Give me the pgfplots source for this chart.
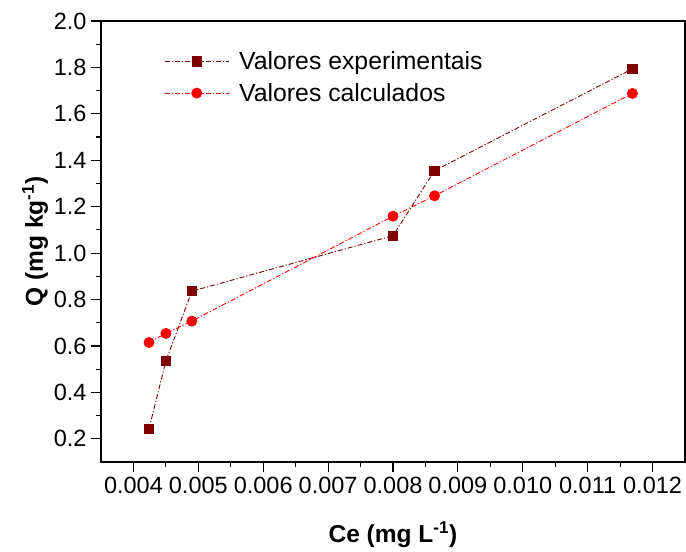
\documentclass[border=0pt]{standalone}
\usepackage{fontspec}
\setmainfont{Liberation Sans}
\usepackage{pgfplots}
\pgfplotsset{compat=1.18}

\definecolor{expcol}{RGB}{128,0,0}
\definecolor{calccol}{RGB}{255,0,0}

\begin{document}
\begin{tikzpicture}
\begin{axis}[
  name=ax,
  scale only axis,
  width=584pt, height=441pt,
  xmin=0.0035, xmax=0.0125,
  ymin=0.1, ymax=2.0,
  axis line style={line width=1.4pt},
  xtick={0.004,0.005,0.006,0.007,0.008,0.009,0.010,0.011,0.012},
  xticklabels={0.004,0.005,0.006,0.007,0.008,0.009,0.010,0.011,0.012},
  ytick={0.2,0.4,0.6,0.8,1.0,1.2,1.4,1.6,1.8,2.0},
  yticklabels={0.2,0.4,0.6,0.8,1.0,1.2,1.4,1.6,1.8,2.0},
  scaled x ticks=false,
  minor x tick num=1,
  minor y tick num=1,
  tick align=outside,
  xtick pos=bottom, ytick pos=left,
  major tick length=10pt, minor tick length=5pt,
  every tick/.style={black, line width=1.2pt},
  /pgf/number format/assume math mode=true,
  tick label style={font=\fontsize{23.5}{27}\selectfont},
  xticklabel style={yshift=-2pt},
  yticklabel style={xshift=-1pt},
  xlabel={Ce (mg L\textsuperscript{-1})},
  ylabel={Q (mg kg\textsuperscript{-1})},
  every axis x label/.style={at={(axis description cs:0.5,-0.1655)}, anchor=center,
    font=\fontsize{24.5}{28}\selectfont\bfseries},
  every axis y label/.style={at={(axis description cs:-0.113,0.5)}, anchor=center, rotate=90,
    font=\fontsize{24.5}{28}\selectfont\bfseries},
  legend style={at={(axis description cs:0.108,0.935)}, anchor=north west,
    draw=none, fill=none, font=\fontsize{24.8}{30}\selectfont,
    row sep=8pt, inner sep=0pt},
  legend cell align=left,
  legend image code/.code={%
    \draw[mark repeat=2,mark phase=2,#1]
      plot coordinates {(0pt,0pt) (32pt,0pt) (64pt,0pt)};
    \path (72pt,0pt);},
]
\addplot[color=expcol, line width=0.9pt,
  dash pattern=on 5pt off 2pt on 1.2pt off 2pt,
  mark=square*, mark size=4.7pt,
  mark options={solid, fill=expcol, draw=expcol}]
  coordinates {
    (0.00424,0.243)
    (0.00450,0.535)
    (0.00490,0.836)
    (0.00800,1.075)
    (0.00864,1.355)
    (0.01169,1.794)
  };
\addlegendentry{Valores experimentais}

\addplot[color=calccol, line width=0.9pt,
  dash pattern=on 5pt off 2pt on 1.2pt off 2pt,
  mark=*, mark size=5pt,
  mark options={solid, fill=calccol, draw=calccol}]
  coordinates {
    (0.00424,0.615)
    (0.00450,0.654)
    (0.00490,0.707)
    (0.00800,1.159)
    (0.00864,1.247)
    (0.01169,1.688)
  };
\addlegendentry{Valores calculados}
\end{axis}
\pgfresetboundingbox
\path[use as bounding box]
  ([xshift=-101pt,yshift=-89pt]ax.south west)
  rectangle ([xshift=1pt,yshift=21pt]ax.north east);
\end{tikzpicture}
\end{document}
